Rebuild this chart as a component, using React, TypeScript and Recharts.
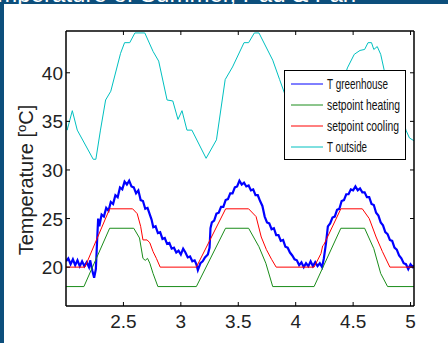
import { LineChart, Line, XAxis, YAxis, Legend } from "recharts";

// time axis in days, temperatures in degC
const xTicks = [2.5, 3, 3.5, 4, 4.5, 5];
const yTicks = [20, 25, 30, 35, 40];

const greenhouse: [number, number][] = [
  [2.0, 20.6], [2.02, 20.9], [2.04, 20.3], [2.06, 20.8], [2.08, 20.2], [2.1, 20.7],
  [2.12, 20.1], [2.14, 20.6], [2.16, 20.1], [2.18, 20.5], [2.2, 20.0], [2.21, 20.7],
  [2.23, 19.6], [2.245, 18.9], [2.26, 19.8], [2.27, 22.5], [2.28, 25.0], [2.29, 24.2],
  [2.31, 25.4], [2.33, 25.2], [2.35, 26.1], [2.37, 25.8], [2.39, 26.7], [2.41, 26.5],
  [2.43, 27.4], [2.45, 27.2], [2.47, 28.2], [2.49, 28.0], [2.51, 28.8], [2.53, 28.5],
  [2.55, 28.9], [2.57, 28.3], [2.59, 28.2], [2.61, 27.6], [2.63, 27.9], [2.65, 26.9],
  [2.67, 26.8], [2.69, 26.0], [2.71, 26.1], [2.73, 25.4], [2.745, 24.9], [2.76, 24.1],
  [2.78, 24.2], [2.8, 23.5], [2.82, 23.6], [2.84, 22.9], [2.86, 23.0], [2.88, 22.4],
  [2.9, 22.5], [2.92, 21.9], [2.94, 22.0], [2.96, 21.5], [2.98, 21.7], [3.0, 21.3],
  [3.02, 21.9], [3.04, 21.5], [3.06, 21.0], [3.08, 21.1], [3.1, 20.6], [3.12, 20.7],
  [3.135, 20.3], [3.148, 19.7], [3.17, 20.4], [3.19, 20.6], [3.21, 21.0], [3.235, 21.3],
  [3.25, 22.0], [3.258, 24.0], [3.27, 24.6], [3.29, 24.8], [3.31, 25.5], [3.33, 25.6],
  [3.35, 26.2], [3.37, 26.2], [3.39, 26.9], [3.41, 27.0], [3.43, 27.6], [3.45, 27.6],
  [3.47, 28.2], [3.49, 28.3], [3.51, 28.9], [3.53, 28.5], [3.55, 28.7], [3.57, 28.3],
  [3.59, 28.4], [3.61, 27.9], [3.63, 28.0], [3.65, 27.4], [3.67, 27.4], [3.69, 26.8],
  [3.71, 26.3], [3.73, 25.2], [3.75, 24.6], [3.77, 24.5], [3.79, 23.9], [3.81, 24.0],
  [3.83, 23.3], [3.85, 23.3], [3.87, 22.7], [3.89, 22.8], [3.91, 22.1], [3.93, 22.0],
  [3.95, 21.5], [3.97, 21.2], [3.99, 20.8], [4.01, 20.7], [4.03, 20.2], [4.05, 20.5],
  [4.07, 20.0], [4.09, 20.4], [4.11, 20.1], [4.13, 20.6], [4.15, 20.1], [4.17, 20.5],
  [4.19, 20.1], [4.21, 20.4], [4.23, 20.0], [4.245, 20.9], [4.263, 22.4], [4.28, 24.2],
  [4.3, 24.5], [4.32, 25.1], [4.34, 25.2], [4.36, 25.9], [4.38, 26.0], [4.4, 26.8],
  [4.42, 26.9], [4.44, 27.5], [4.46, 27.5], [4.48, 28.0], [4.5, 27.9], [4.52, 28.3],
  [4.54, 27.9], [4.56, 28.1], [4.58, 27.7], [4.6, 27.7], [4.62, 27.2], [4.64, 27.2],
  [4.66, 26.5], [4.68, 26.4], [4.7, 25.6], [4.72, 25.3], [4.74, 24.6], [4.76, 24.3],
  [4.78, 23.6], [4.8, 23.4], [4.82, 22.8], [4.84, 22.7], [4.86, 22.0], [4.88, 21.8],
  [4.9, 21.2], [4.92, 20.9], [4.94, 20.4], [4.96, 20.3], [4.98, 19.8], [5.0, 20.3],
  [5.02, 20.0], [5.03, 20.2],
];

const heating: [number, number][] = [
  [2.0, 18], [2.156, 18], [2.38, 24], [2.59, 24], [2.64, 23.0], [2.67, 20.9],
  [2.69, 20.7], [2.71, 20.9], [2.73, 20.4], [2.758, 19.35], [2.8, 18], [3.135, 18],
  [3.389, 24], [3.59, 24], [3.68, 22.1], [3.74, 20.4], [3.8, 18], [4.16, 18],
  [4.393, 24], [4.6, 24], [4.68, 21.9], [4.74, 19.35], [4.8, 18], [5.03, 18],
];

const cooling: [number, number][] = [
  [2.0, 20], [2.165, 20], [2.38, 26], [2.58, 26], [2.62, 25.5], [2.65, 24.2],
  [2.67, 22.8], [2.706, 22.8], [2.73, 22.5], [2.758, 21.6], [2.787, 20.9], [2.82, 20],
  [3.135, 20], [3.39, 26], [3.59, 26], [3.655, 25.2], [3.7, 23.1], [3.745, 21.8],
  [3.79, 20.8], [3.83, 20], [4.16, 20], [4.22, 21.4], [4.235, 22.2], [4.245, 22.3],
  [4.393, 26], [4.58, 26], [4.64, 25], [4.7, 23.1], [4.755, 21.6], [4.82, 20], [5.03, 20],
];

const outside: [number, number][] = [
  [2.0, 35.0], [2.01, 34.1], [2.055, 36.1], [2.098, 34.1], [2.237, 31.1], [2.26, 31.1],
  [2.3, 34.1], [2.345, 37.2], [2.39, 38.1], [2.475, 42.0], [2.51, 43.1], [2.555, 43.1],
  [2.6, 44.1], [2.686, 44.1], [2.758, 42.2], [2.807, 41.2], [2.88, 37.2], [2.93, 37.1],
  [2.975, 35.2], [3.01, 36.1], [3.053, 34.1], [3.096, 34.1], [3.22, 31.2], [3.31, 33.1],
  [3.386, 39.3], [3.45, 40.6], [3.55, 43.1], [3.59, 43.1], [3.64, 44.1], [3.68, 44.1],
  [3.8, 41.3], [3.86, 39.3], [3.93, 37.0], [3.98, 36.8], [4.02, 35.2], [4.05, 35.8],
  [4.09, 34.2], [4.13, 34.0], [4.23, 31.6], [4.3, 33.0], [4.38, 38.0], [4.45, 40.5],
  [4.51, 41.9], [4.56, 42.3], [4.6, 42.4], [4.63, 43.1], [4.66, 43.1], [4.68, 42.4],
  [4.71, 42.7], [4.74, 41.9], [4.77, 40.3], [4.85, 37.5], [4.9, 36.2], [4.93, 35.5],
  [4.96, 34.1], [4.99, 33.3], [5.03, 33.0],
];

const seriesOrder = ["T greenhouse", "setpoint heating", "setpoint cooling", "T outside"];

const rows = (pts: [number, number][]) => pts.map(([t, v]) => ({ t, v }));

// legend label widths, the reference uses a narrow font
const labelWidth: Record<string, number> = {
  "T greenhouse": 61,
  "setpoint heating": 73,
  "setpoint cooling": 72,
  "T outside": 40,
};

const font = "'Liberation Sans', Arial, sans-serif";
const navy = "#0d4f7c";

function BottomTick({ x, y, payload }: any) {
  return (
    <g>
      <line x1={x} y1={y} x2={x} y2={y - 4} stroke="#000" />
      <text x={x} y={y + 22} textAnchor="middle" fontSize={19} fill="#222" fontFamily={font}>
        {payload.value}
      </text>
    </g>
  );
}

function TopTick({ x, y }: any) {
  return <line x1={x} y1={y} x2={x} y2={y + 4} stroke="#000" />;
}

function LeftTick({ x, y, payload }: any) {
  return (
    <g>
      <line x1={x} y1={y} x2={x + 4} y2={y} stroke="#000" />
      <text x={x - 3} y={y + 7} textAnchor="end" fontSize={19} fill="#222" fontFamily={font}>
        {payload.value}
      </text>
    </g>
  );
}

function RightTick({ x, y }: any) {
  return <line x1={x} y1={y} x2={x - 4} y2={y} stroke="#000" />;
}

function LegendBox({ payload }: any) {
  const items = [...(payload || [])].sort(
    (a: any, b: any) => seriesOrder.indexOf(a.value) - seriesOrder.indexOf(b.value)
  );
  return (
    <svg width={122} height={90}>
      <rect x={0.5} y={0.5} width={121} height={89} fill="#fff" stroke="#000" />
      {items.map((p: any, i: number) => {
        const cy = 14 + i * 21;
        return (
          <g key={p.value}>
            <line x1={7} y1={cy} x2={39} y2={cy} stroke={p.color} strokeWidth={1} />
            <text
              x={43}
              y={cy + 5}
              fontSize={14}
              fill="#111"
              fontFamily={font}
              textLength={labelWidth[p.value]}
              lengthAdjust="spacingAndGlyphs"
            >
              {p.value}
            </text>
          </g>
        );
      })}
    </svg>
  );
}

function YLabel() {
  return (
    <text
      transform="translate(33,180) rotate(-90)"
      textAnchor="middle"
      fontSize={20}
      fill="#222"
      fontFamily={font}
    >
      Temperature [
      <tspan dy={-7} fontSize={13}>o</tspan>
      <tspan dy={7}>C]</tspan>
    </text>
  );
}

export default function App() {
  return (
    <div style={{ position: "absolute", left: 0, top: 0, width: 448, height: 343, background: "#fff", overflow: "hidden" }}>
      <div style={{ position: "absolute", left: 0, top: 0, width: 4, height: 343, background: navy }} />
      <div style={{ position: "absolute", left: 0, top: 0, width: 448, height: 4, background: navy, overflow: "hidden" }}>
        <span
          style={{
            position: "absolute",
            left: -28,
            top: -20,
            fontSize: 24,
            color: "#fff",
            whiteSpace: "nowrap",
            fontFamily: font,
          }}
        >
          Temperature of Summer, Pad &amp; Fan
        </span>
      </div>
      <div style={{ position: "absolute", left: 0, top: 0 }}>
        <LineChart width={448} height={343} margin={{ top: 30, right: 33, bottom: 7, left: 0 }}>
          <XAxis
            dataKey="t"
            type="number"
            domain={[2, 5.03]}
            allowDataOverflow
            ticks={xTicks}
            interval={0}
            height={30}
            tickSize={0}
            tickMargin={0}
            tick={<BottomTick />}
            axisLine={{ stroke: "#000", strokeWidth: 1.5 }}
          />
          <XAxis
            xAxisId="top"
            orientation="top"
            dataKey="t"
            type="number"
            domain={[2, 5.03]}
            allowDataOverflow
            ticks={xTicks}
            interval={0}
            height={1}
            tickSize={0}
            tickMargin={0}
            tick={<TopTick />}
            axisLine={{ stroke: "#000", strokeWidth: 1.5 }}
          />
          <YAxis
            type="number"
            domain={[16, 44.3]}
            allowDataOverflow
            ticks={yTicks}
            interval={0}
            width={66}
            tickSize={0}
            tickMargin={0}
            tick={<LeftTick />}
            axisLine={{ stroke: "#000", strokeWidth: 1.5 }}
          />
          <YAxis
            yAxisId="right"
            orientation="right"
            type="number"
            domain={[16, 44.3]}
            allowDataOverflow
            ticks={yTicks}
            interval={0}
            width={1}
            tickSize={0}
            tickMargin={0}
            tick={<RightTick />}
            axisLine={{ stroke: "#000", strokeWidth: 1.5 }}
          />
          <Line data={rows(greenhouse)} dataKey="v" name="T greenhouse" stroke="#0000ff" strokeWidth={2.2} dot={false} isAnimationActive={false} />
          <Line data={rows(heating)} dataKey="v" name="setpoint heating" stroke="#1a8c1a" strokeWidth={1} dot={false} isAnimationActive={false} />
          <Line data={rows(cooling)} dataKey="v" name="setpoint cooling" stroke="#ff0000" strokeWidth={1} dot={false} isAnimationActive={false} />
          <Line data={rows(outside)} dataKey="v" name="T outside" stroke="#00c0c0" strokeWidth={1} dot={false} isAnimationActive={false} />
          <Legend
            layout="vertical"
            align="center"
            verticalAlign="middle"
            itemSorter="dataKey"
            content={<LegendBox />}
            wrapperStyle={{ left: 284, top: 70, width: 122, height: 90 }}
          />
        </LineChart>
        <svg width={448} height={343} style={{ position: "absolute", left: 0, top: 0, pointerEvents: "none" }}>
          <YLabel />
        </svg>
      </div>
    </div>
  );
}
